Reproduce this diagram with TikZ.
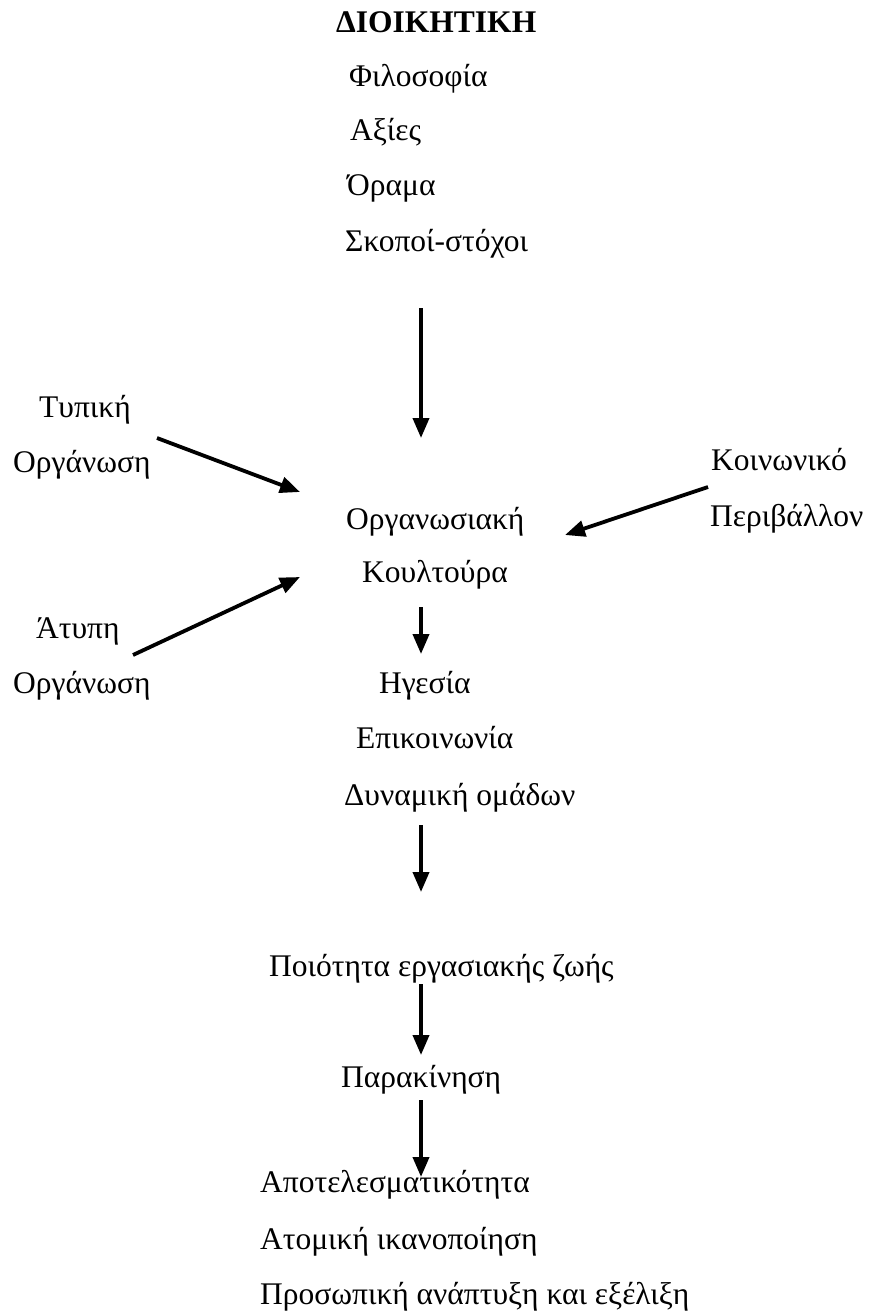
\documentclass[tikz,border=0pt]{standalone}
\usepackage{fontspec}
\setmainfont{Liberation Serif}
\usetikzlibrary{arrows.meta}
\begin{document}
\begin{tikzpicture}[x=1pt,y=-1pt,
  lbl/.style={anchor=base west,inner sep=0pt,font=\fontsize{31.5}{36}\selectfont},
  arr/.style={line width=3.8pt,-{Triangle[length=20pt,width=16pt]}}]
\useasboundingbox[fill=white] (0,0) rectangle (870,1315);
\node[lbl,font=\fontsize{31.5}{36}\selectfont\bfseries] (t) at (336,32) {ΔΙΟΙΚΗΤΙΚΗ};
\node[lbl] (f1) at (349,86) {Φιλοσοφία};
\node[lbl] (f2) at (350,140) {Αξίες};
\node[lbl] (f3) at (347,195) {Όραμα};
\node[lbl] (f4) at (345,251) {Σκοποί-στόχοι};
\node[lbl] (ty1) at (39,417) {Τυπική};
\node[lbl] (ty2) at (13,472) {Οργάνωση};
\node[lbl] (k1) at (711,470) {Κοινωνικό};
\node[lbl] (k2) at (710,526) {Περιβάλλον};
\node[lbl] (o1) at (346,529) {Οργανωσιακή};
\node[lbl] (o2) at (362,582) {Κουλτούρα};
\node[lbl] (a1) at (36,638) {Άτυπη};
\node[lbl] (a2) at (13,693) {Οργάνωση};
\node[lbl] (h1) at (379,693) {Ηγεσία};
\node[lbl] (h2) at (356,748) {Επικοινωνία};
\node[lbl] (h3) at (344,805) {Δυναμική ομάδων};
\node[lbl] (p) at (269,976) {Ποιότητα εργασιακής ζωής};
\node[lbl] (m) at (341,1087) {Παρακίνηση};
\node[lbl] (r1) at (260,1192) {Αποτελεσματικότητα};
\node[lbl] (r2) at (260,1249) {Ατομική ικανοποίηση};
\node[lbl] (r3) at (260,1304) {Προσωπική ανάπτυξη και εξέλιξη};
% arrow endpoints
\coordinate (s1) at (421,308); \coordinate (e1) at (421,438);
\coordinate (s2) at (157,438); \coordinate (e2) at (300,492);
\coordinate (s3) at (708,487); \coordinate (e3) at (565,535);
\coordinate (s4) at (133,655); \coordinate (e4) at (300,577);
\coordinate (s5) at (421,607); \coordinate (e5) at (421,654);
\coordinate (s6) at (421,825); \coordinate (e6) at (421,892);
\coordinate (s7) at (421,984); \coordinate (e7) at (421,1055);
\coordinate (s8) at (421,1100); \coordinate (e8) at (421,1177);
\draw[arr] (s1) -- (e1);
\draw[arr] (s2) -- (e2);
\draw[arr] (s3) -- (e3);
\draw[arr] (s4) -- (e4);
\draw[arr] (s5) -- (e5);
\draw[arr] (s6) -- (e6);
\draw[arr] (s7) -- (e7);
\draw[arr] (s8) -- (e8);
\end{tikzpicture}
\end{document}
